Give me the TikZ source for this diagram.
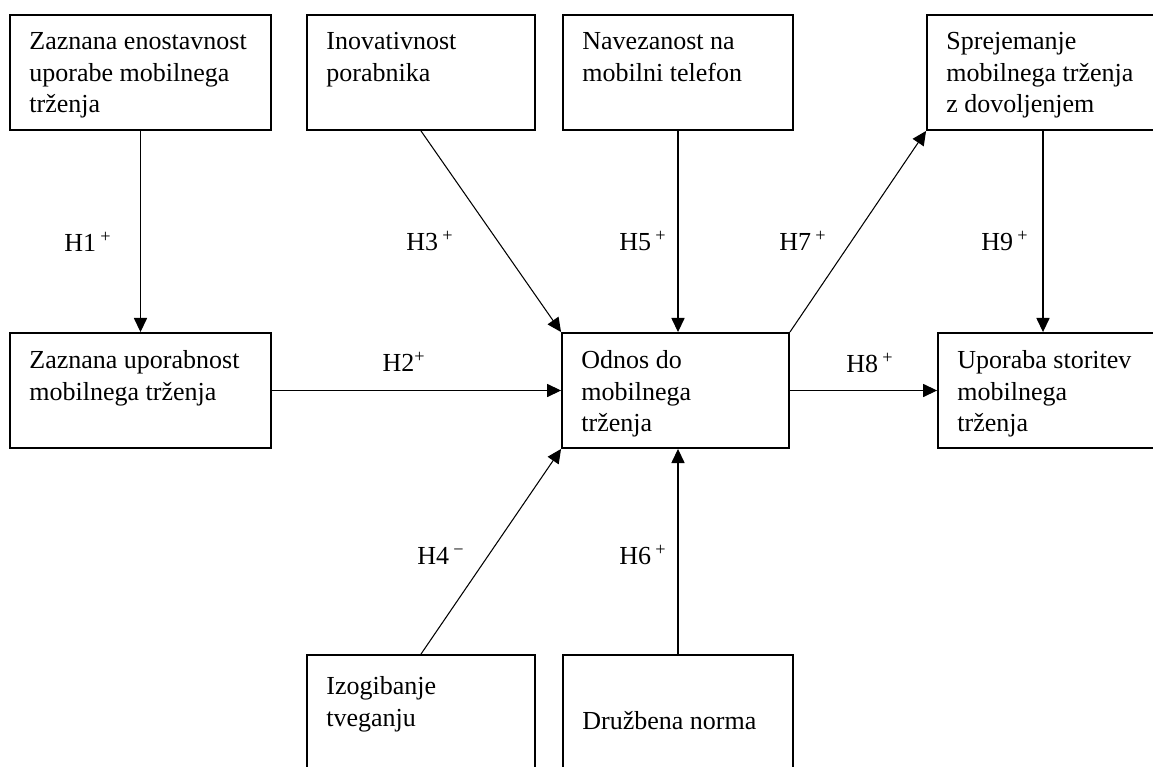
\documentclass[tikz,border=0pt]{standalone}
\usepackage{fontspec}
\setmainfont{Liberation Serif}
\usetikzlibrary{calc, arrows.meta}

\tikzset{
  okvir/.style = {draw, line width=1.1pt, minimum width=4.56cm, minimum height=2.3cm, inner sep=0pt},
  besedilo/.style = {anchor=north west, align=left, inner sep=0pt, font=\fontsize{14.8}{18}\selectfont},
  povezava/.style = {line width=0.6pt, -{Triangle[length=8pt, width=7.5pt]}},
  oznaka/.style = {inner sep=0pt, font=\fontsize{14.8}{18}\selectfont},
}

\begin{document}
\begin{tikzpicture}[x=0.02cm, y=-0.02cm]
			\def\zg{72.5};
			\def\sr{390.5};
			\def\sp{712.5};

			\useasboundingbox (0,0) rectangle (1153,767);
			\clip (0,0) rectangle (1153,767);

			\begin{scope}
				\node[okvir, minimum width=5.22cm] (enost) at (140.5,\zg) {};
				\node[okvir] (inov) at (421,\zg) {};
				\node[okvir, minimum width=4.6cm] (navez) at (678,\zg) {};
				\node[okvir, minimum width=4.64cm] (sprej) at (1043,\zg) {};

				\node[okvir, minimum width=5.22cm] (uporab) at (140.5,\sr) {};
				\node[okvir, minimum width=4.54cm] (odnos) at (675.5,\sr) {};
				\node[okvir] (storitev) at (1052,\sr) {};

				\node[okvir] (izog) at (421,\sp) {};
				\node[okvir, minimum width=4.6cm] (norma) at (678,\sp) {};
			\end{scope}

			\begin{scope}
				\node[besedilo] (t-enost) at ($(enost.north west)+(20,18)$) {Zaznana enostavnost\\uporabe mobilnega\\trženja};
				\node[besedilo] (t-inov) at ($(inov.north west)+(20,18)$) {Inovativnost\\porabnika};
				\node[besedilo] (t-navez) at ($(navez.north west)+(20,18)$) {Navezanost na\\mobilni telefon};
				\node[besedilo] (t-sprej) at ($(sprej.north west)+(20,18)$) {Sprejemanje\\mobilnega trženja\\z dovoljenjem};
				\node[besedilo] (t-uporab) at ($(uporab.north west)+(20,18)$) {Zaznana uporabnost\\mobilnega trženja};
				\node[besedilo] (t-odnos) at ($(odnos.north west)+(20,18)$) {Odnos do\\mobilnega\\trženja};
				\node[besedilo] (t-storitev) at ($(storitev.north west)+(20,18)$) {Uporaba storitev\\mobilnega\\trženja};
				\node[besedilo] (t-izog) at ($(izog.north west)+(20,22)$) {Izogibanje\\tveganju};
				\node[besedilo] (t-norma) at ($(norma.north west)+(20,57)$) {Družbena norma};
			\end{scope}

			\draw[povezava] (enost) -- (uporab);
			\draw[povezava] (uporab) -- (odnos);
			\draw[povezava] (inov.south) -- (odnos.north west);
			\draw[povezava] (navez.south) -- (navez.south |- odnos.north);
			\draw[povezava] (odnos.north east) -- (sprej.south west);
			\draw[povezava] (sprej.south) -- (sprej.south |- storitev.north);
			\draw[povezava] (odnos) -- (storitev);
			\draw[povezava] (izog.north) -- (odnos.south west);
			\draw[povezava] (norma.north) -- (norma.north |- odnos.south);

			\node[oznaka] (h1) at (88,242) {H1\,\textsuperscript{+}};
			\node[oznaka] (h2) at (404,362) {H2\textsuperscript{+}};
			\node[oznaka] (h3) at (430,241) {H3\,\textsuperscript{+}};
			\node[oznaka] (h5) at (643,241) {H5\,\textsuperscript{+}};
			\node[oznaka] (h7) at (803,241) {H7\,\textsuperscript{+}};
			\node[oznaka] (h9) at (1005,241) {H9\,\textsuperscript{+}};
			\node[oznaka] (h8) at (870,363) {H8\,\textsuperscript{+}};
			\node[oznaka] (h4) at (441,556) {H4\,\textsuperscript{−}};
			\node[oznaka] (h6) at (643,555) {H6\,\textsuperscript{+}};
		\end{tikzpicture}
\end{document}
